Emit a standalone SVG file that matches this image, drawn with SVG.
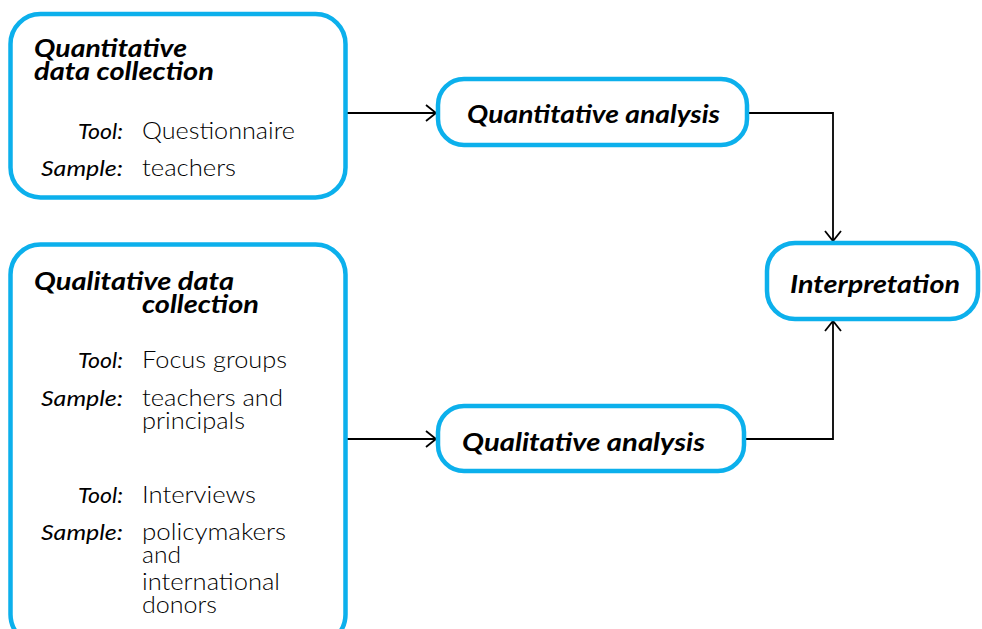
<svg xmlns="http://www.w3.org/2000/svg" width="982" height="629" viewBox="0 0 982 629">
<defs>
<style>
.box{fill:#fff;stroke:#0cb0ec;stroke-width:4.5}
.title{font-family:Lato,"Open Sans",sans-serif;font-weight:700;font-style:italic;font-size:25px;fill:#000}
.lbl{font-family:Lato,"Open Sans",sans-serif;font-style:italic;font-size:22px;fill:#000;text-anchor:end}
.val{font-family:Lato,"Open Sans",sans-serif;font-weight:300;font-size:23px;fill:#000}
.conn{fill:none;stroke:#000;stroke-width:1.8}
</style>
<marker id="arr" markerUnits="userSpaceOnUse" markerWidth="14" markerHeight="20" refX="11" refY="9" orient="auto">
<path d="M1,1 L11,9 L1,17" fill="none" stroke="#000" stroke-width="1.8"/>
</marker>
</defs>
<g id="connectors">
<path class="conn" d="M347,113 H436" marker-end="url(#arr)"/>
<path class="conn" d="M347,439 H436" marker-end="url(#arr)"/>
<path class="conn" d="M747,113 H833 V241" marker-end="url(#arr)"/>
<path class="conn" d="M746,439 H833 V321" marker-end="url(#arr)"/>
</g>
<g id="quant-collection">
<rect class="box" x="10.5" y="14" width="335" height="183.5" rx="30"/>
<text class="title" x="34" y="57" textLength="153" lengthAdjust="spacingAndGlyphs">Quantitative</text>
<text class="title" x="34" y="80" textLength="180" lengthAdjust="spacingAndGlyphs">data collection</text>
<text class="lbl" x="123" y="139" textLength="45" lengthAdjust="spacingAndGlyphs">Tool:</text>
<text class="val" x="142" y="139" textLength="153" lengthAdjust="spacingAndGlyphs">Questionnaire</text>
<text class="lbl" x="123" y="176" textLength="82" lengthAdjust="spacingAndGlyphs">Sample:</text>
<text class="val" x="142" y="176" textLength="94" lengthAdjust="spacingAndGlyphs">teachers</text>
</g>
<g id="qual-collection">
<rect class="box" x="10.5" y="244.5" width="335" height="400" rx="30"/>
<text class="title" x="34" y="290" textLength="200" lengthAdjust="spacingAndGlyphs">Qualitative data</text>
<text class="title" x="142" y="313" textLength="117" lengthAdjust="spacingAndGlyphs">collection</text>
<text class="lbl" x="123" y="368" textLength="45" lengthAdjust="spacingAndGlyphs">Tool:</text>
<text class="val" x="142" y="368" textLength="145" lengthAdjust="spacingAndGlyphs">Focus groups</text>
<text class="lbl" x="123" y="406" textLength="82" lengthAdjust="spacingAndGlyphs">Sample:</text>
<text class="val" x="142" y="406" textLength="141" lengthAdjust="spacingAndGlyphs">teachers and</text>
<text class="val" x="142" y="429" textLength="103" lengthAdjust="spacingAndGlyphs">principals</text>
<text class="lbl" x="123" y="503" textLength="45" lengthAdjust="spacingAndGlyphs">Tool:</text>
<text class="val" x="142" y="503" textLength="114" lengthAdjust="spacingAndGlyphs">Interviews</text>
<text class="lbl" x="123" y="540" textLength="82" lengthAdjust="spacingAndGlyphs">Sample:</text>
<text class="val" x="142" y="540" textLength="144" lengthAdjust="spacingAndGlyphs">policymakers</text>
<text class="val" x="142" y="563" textLength="39" lengthAdjust="spacingAndGlyphs">and</text>
<text class="val" x="142" y="590" textLength="138" lengthAdjust="spacingAndGlyphs">international</text>
<text class="val" x="142" y="613" textLength="75" lengthAdjust="spacingAndGlyphs">donors</text>
</g>
<g id="quant-analysis">
<rect class="box" x="438" y="79" width="309" height="66" rx="26"/>
<text class="title" x="467" y="123" textLength="253" lengthAdjust="spacingAndGlyphs">Quantitative analysis</text>
</g>
<g id="qual-analysis">
<rect class="box" x="438" y="406" width="306" height="65" rx="26"/>
<text class="title" x="462" y="451" textLength="243" lengthAdjust="spacingAndGlyphs">Qualitative analysis</text>
</g>
<g id="interpretation">
<rect class="box" x="767" y="243" width="211" height="76" rx="28"/>
<text class="title" x="790" y="293" textLength="170" lengthAdjust="spacingAndGlyphs">Interpretation</text>
</g>
</svg>
